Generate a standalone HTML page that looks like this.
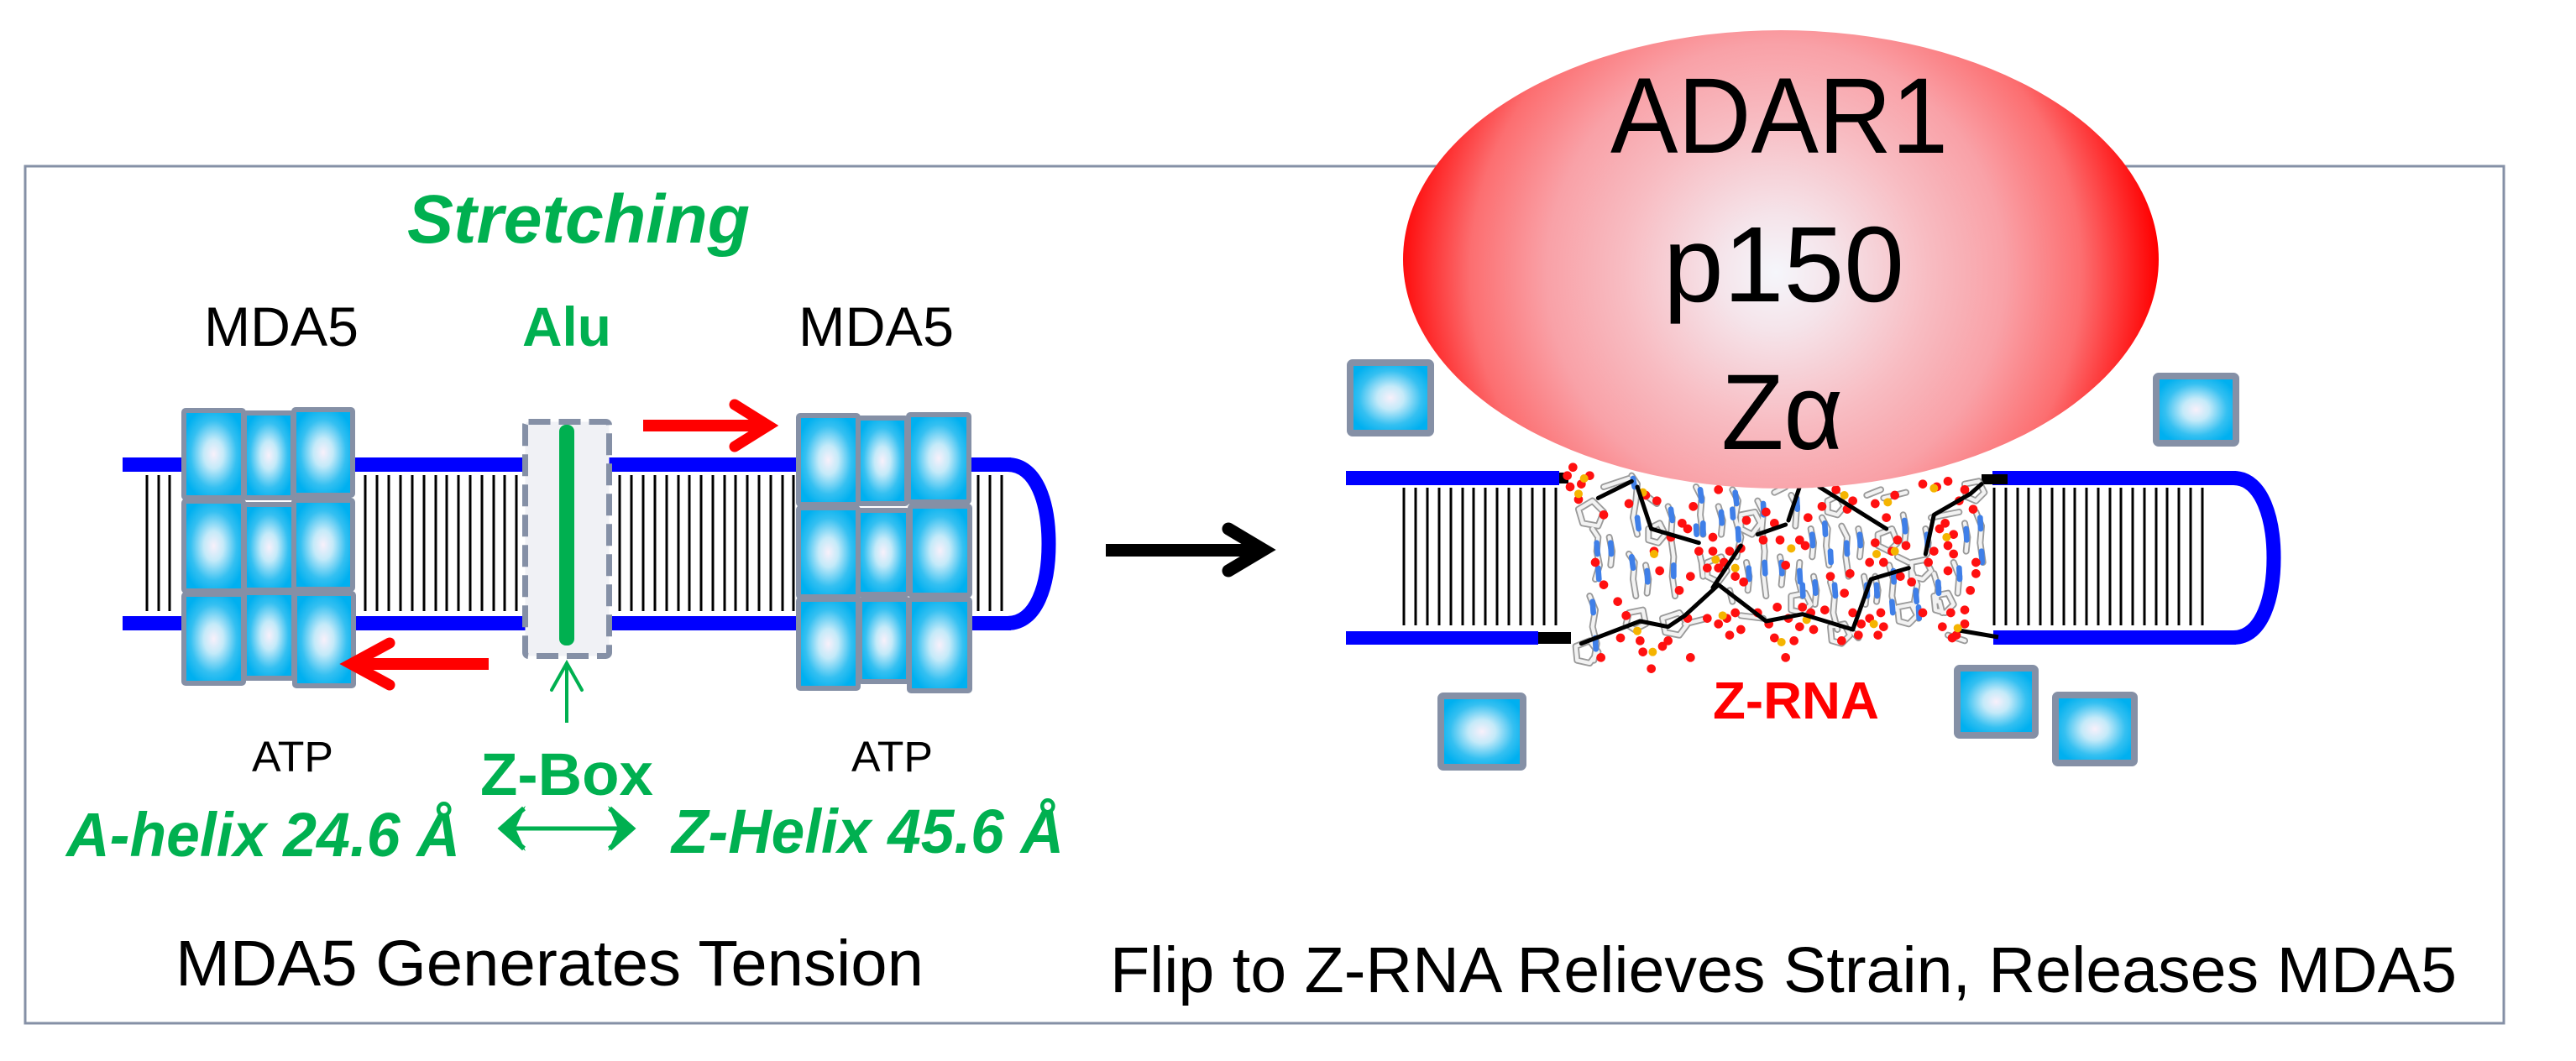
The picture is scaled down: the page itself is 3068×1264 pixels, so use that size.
<!DOCTYPE html>
<html>
<head>
<meta charset="utf-8">
<style>
html,body{margin:0;padding:0;background:#fff;}
svg{display:block;}
text{font-family:"Liberation Sans", Arial, sans-serif;}
</style>
</head>
<body>
<svg width="3068" height="1264" viewBox="0 0 3068 1264" xmlns="http://www.w3.org/2000/svg">
<defs>
  <radialGradient id="cell" cx="0.5" cy="0.5" r="0.55">
    <stop offset="0" stop-color="#F8F0FA"/>
    <stop offset="0.3" stop-color="#C4EAF9"/>
    <stop offset="0.7" stop-color="#35C0F1"/>
    <stop offset="1" stop-color="#00B0F0"/>
  </radialGradient>
  <radialGradient id="ell" gradientUnits="userSpaceOnUse" cx="2115" cy="325" r="455">
    <stop offset="0" stop-color="#F5F6FB"/>
    <stop offset="0.15" stop-color="#F5E4EA"/>
    <stop offset="0.4" stop-color="#F8BCC2"/>
    <stop offset="0.6" stop-color="#F9A1A7"/>
    <stop offset="0.8" stop-color="#FC6E70"/>
    <stop offset="1" stop-color="#FF0000"/>
  </radialGradient>
</defs>

<!-- frame -->
<rect x="30" y="198" width="2952" height="1021" fill="none" stroke="#8590A6" stroke-width="3"/>

<!-- ===== LEFT PANEL ===== -->
<path stroke="#000" stroke-width="3" fill="none" d="
M175,566V728 M189,566V728 M202,566V728
M435,566V728 M449,566V728 M463,566V728 M477,566V728 M491,566V728 M505,566V728 M519,566V728 M532,566V728 M546,566V728 M560,566V728 M574,566V728 M588,566V728 M601,566V728 M615,566V728
M738,566V728 M752,566V728 M766,566V728 M780,566V728 M794,566V728 M808,566V728 M821,566V728 M835,566V728 M849,566V728 M863,566V728 M876,566V728 M890,566V728 M904,566V728 M918,566V728 M932,566V728 M945,566V728
M1165,566V728 M1179,566V728 M1193,566V728"/>
<rect x="146" y="545" width="1058" height="17" fill="#0000FF"/>
<rect x="146" y="734" width="1058" height="17" fill="#0000FF"/>
<path d="M1200,553.5 C1235,553.5 1249,600 1249,648 C1249,696 1235,742.5 1200,742.5" fill="none" stroke="#0000FF" stroke-width="17"/>

<rect x="625.5" y="502.5" width="100" height="279" rx="4" fill="#F0F1F5" stroke="#8590A6" stroke-width="7" stroke-dasharray="26 10"/>
<rect x="666" y="506" width="18" height="263" rx="8" fill="#00B050"/>

<g fill="url(#cell)" stroke="#8590A6" stroke-width="6">
  <rect x="219" y="489" width="71" height="104" rx="2"/>
  <rect x="291" y="492" width="58" height="101" rx="2"/>
  <rect x="350" y="488" width="70" height="102" rx="2"/>
  <rect x="219" y="597" width="71" height="107" rx="2"/>
  <rect x="291" y="601" width="59" height="102" rx="2"/>
  <rect x="350" y="596" width="70" height="106" rx="2"/>
  <rect x="219" y="708" width="71" height="106" rx="2"/>
  <rect x="291" y="706" width="59" height="102" rx="2"/>
  <rect x="351" y="707" width="70" height="110" rx="2"/>
</g>
<g fill="url(#cell)" stroke="#8590A6" stroke-width="6">
  <rect x="951" y="495" width="71" height="106" rx="2"/>
  <rect x="1022" y="498" width="58" height="102" rx="2"/>
  <rect x="1082" y="494" width="72" height="104" rx="2"/>
  <rect x="951" y="605" width="71" height="106" rx="2"/>
  <rect x="1022" y="608" width="60" height="100" rx="2"/>
  <rect x="1084" y="603" width="71" height="106" rx="2"/>
  <rect x="951" y="714" width="71" height="106" rx="2"/>
  <rect x="1024" y="714" width="58" height="98" rx="2"/>
  <rect x="1083" y="714" width="72" height="109" rx="2"/>
</g>

<rect x="766" y="500" width="146" height="14" fill="#FF0000"/>
<polyline points="875,482 915,507 875,532" fill="none" stroke="#FF0000" stroke-width="13" stroke-linecap="round" stroke-linejoin="miter"/>
<rect x="420" y="784" width="162" height="14" fill="#FF0000"/>
<polyline points="464,766 418,791 464,816" fill="none" stroke="#FF0000" stroke-width="13" stroke-linecap="round" stroke-linejoin="miter"/>

<line x1="675" y1="861" x2="675" y2="792" stroke="#00B050" stroke-width="4"/>
<polyline points="657,822 675,790 693,822" fill="none" stroke="#00B050" stroke-width="4" stroke-linecap="round"/>
<line x1="604" y1="987" x2="746" y2="987" stroke="#00B050" stroke-width="5"/>
<polygon points="593,987 626,960 614,987 626,1014" fill="#00B050"/>
<polyline points="624,963 597,987 624,1011" fill="none" stroke="#00B050" stroke-width="6" stroke-linejoin="miter"/>
<polygon points="757,987 724,960 736,987 724,1014" fill="#00B050"/>
<polyline points="726,963 753,987 726,1011" fill="none" stroke="#00B050" stroke-width="6" stroke-linejoin="miter"/>

<text x="485" y="289" font-size="82" font-weight="bold" font-style="italic" fill="#00B050" textLength="408" lengthAdjust="spacingAndGlyphs">Stretching</text>
<text x="243" y="412" font-size="66" fill="#000" textLength="184" lengthAdjust="spacingAndGlyphs">MDA5</text>
<text x="622" y="412" font-size="66" font-weight="bold" fill="#00B050" textLength="106" lengthAdjust="spacingAndGlyphs">Alu</text>
<text x="951" y="412" font-size="66" fill="#000" textLength="185" lengthAdjust="spacingAndGlyphs">MDA5</text>
<text x="300" y="919" font-size="51" fill="#000" textLength="97" lengthAdjust="spacingAndGlyphs">ATP</text>
<text x="1014" y="919" font-size="51" fill="#000" textLength="97" lengthAdjust="spacingAndGlyphs">ATP</text>
<text x="572" y="947" font-size="71" font-weight="bold" fill="#00B050" textLength="206" lengthAdjust="spacingAndGlyphs">Z-Box</text>
<text x="79" y="1020" font-size="74" font-weight="bold" font-style="italic" fill="#00B050" textLength="469" lengthAdjust="spacingAndGlyphs">A-helix 24.6 Å</text>
<text x="800" y="1016" font-size="74" font-weight="bold" font-style="italic" fill="#00B050" textLength="467" lengthAdjust="spacingAndGlyphs">Z-Helix 45.6 Å</text>
<text x="209" y="1174" font-size="77" fill="#000" textLength="891" lengthAdjust="spacingAndGlyphs">MDA5 Generates Tension</text>

<rect x="1317" y="648" width="185" height="15" fill="#000"/>
<polyline points="1463,630 1505,655 1463,680" fill="none" stroke="#000" stroke-width="15" stroke-linecap="round" stroke-linejoin="miter"/>

<!-- ===== RIGHT PANEL ===== -->
<path stroke="#000" stroke-width="3" fill="none" d="
M1672,581V745 M1686,581V745 M1700,581V745 M1714,581V745 M1728,581V745 M1742,581V745 M1755,581V745 M1769,581V745 M1783,581V745 M1797,581V745 M1811,581V745 M1825,581V745 M1839,581V745 M1853,581V745
M2375,581V745 M2389,581V745 M2403,581V745 M2416,581V745 M2430,581V745 M2444,581V745 M2458,581V745 M2471,581V745 M2485,581V745 M2499,581V745 M2513,581V745 M2526,581V745 M2540,581V745 M2554,581V745 M2568,581V745 M2581,581V745 M2595,581V745 M2609,581V745 M2623,581V745"/>
<rect x="1603" y="561" width="254" height="17" fill="#0000FF"/>
<rect x="1857" y="563" width="11" height="13" fill="#000"/>
<rect x="1603" y="752" width="229" height="16" fill="#0000FF"/>
<rect x="1832" y="753" width="39" height="14" fill="#000"/>
<rect x="2373" y="561" width="290" height="17" fill="#0000FF"/>
<rect x="2360" y="565" width="31" height="12" fill="#000"/>
<rect x="2374" y="751" width="289" height="17" fill="#0000FF"/>
<line x1="2333" y1="751" x2="2380" y2="759" stroke="#000" stroke-width="5"/>
<path d="M2660,569.5 C2695,569.5 2708,620 2708,664.5 C2708,710 2695,759.5 2660,759.5" fill="none" stroke="#0000FF" stroke-width="17"/>

<!-- Z-RNA stick model (approximate) -->
<g transform="translate(1860,530) scale(0.33333)" stroke-linecap="round" stroke-linejoin="round" fill="none">
  <defs>
    <path id="sticks" d="
M110,300 L130,330 L125,380 L135,430 L120,480
M250,110 L270,140 L265,200 L255,260 L270,320
M240,390 L260,420 L255,480 L265,540
M380,220 L395,260 L390,330 L400,400 L395,470 L405,540
M480,150 L500,190 L495,250 L505,320
M490,380 L500,420 L505,470
M610,160 L630,200 L620,260 L640,330 L625,400
M700,200 L720,240 L715,300 L725,380 L720,460 L730,540
M820,180 L840,220 L835,290
M850,420 L845,480 L860,540
M930,260 L950,300 L945,360 L955,430
M1000,290 L1020,330 L1015,400 L1025,470
M960,490 L975,540 L970,600 L985,660
M1170,430 L1185,480 L1180,540 L1190,590
M1250,450 L1270,500 L1260,560 L1275,620
M1400,420 L1420,470 L1415,530
M1480,240 L1500,290 L1495,350 L1505,420
M100,540 L120,590 L110,650 L125,710 L115,770
M1080,470 L1090,520 L1085,570
M1330,460 L1345,510 L1340,560
M170,330 L180,380 L175,430
M300,430 L310,480 L305,530
M560,220 L575,270 L570,320
M660,420 L670,470 L665,520
M780,400 L790,450 L785,500
M890,300 L900,350 L895,400
M1060,300 L1070,350 L1065,400
M1120,470 L1130,520 L1125,560
M1220,250 L1230,300 L1225,350
M1300,300 L1310,350 L1305,390
M1440,280 L1450,330 L1445,380
M1350,560 L1360,600
M900,470 L910,520 L905,570
M600,520 L610,560
M60,230 L110,200 L150,240 L130,290 L75,280 Z
M640,250 L690,240 L710,280 L680,320 L640,300 Z
M1130,320 L1180,300 L1200,350 L1170,380 L1130,360 Z
M820,540 L870,530 L890,570 L860,600 L820,590 Z
M240,600 L290,590 L300,640 L260,660 L230,640 Z
M50,720 L100,700 L130,740 L100,780 L55,770 Z
M1250,420 L1300,410 L1320,450 L1290,480 L1250,470 Z
M950,200 L990,180 L1010,220 L985,250 L950,240 Z
M360,620 L420,600 L450,640 L420,680 L370,670 Z
M520,420 L570,400 L590,450 L560,490 L520,470 Z
M960,650 L1010,640 L1030,680 L1000,710 L965,700 Z
M1440,140 L1490,130 L1510,170 L1480,200 L1445,185 Z
M1330,540 L1380,530 L1400,570 L1370,600 L1335,590 Z
M1200,580 L1250,570 L1270,610 L1240,640 L1205,630 Z
M310,300 L350,280 L370,320 L345,350 L310,340 Z
M150,150 L240,120
M640,610 L720,620
M440,640 L520,620
M1040,670 L1060,690
M1320,260 L1420,240
M1150,190 L1230,170
M300,180 L340,210
M760,170 L800,150
M1200,400 L1240,420
M1380,680 L1440,700
M1090,180 L1140,160
"/>
    <path id="nit" d="
M255,120 L260,150 M270,260 L275,300 M250,400 L255,440 M390,230 L395,270 M400,430 L400,470
M495,160 L500,200 M505,280 L505,320 M620,170 L625,210 M630,300 L632,340 M720,210 L722,250
M725,420 L727,460 M840,190 L842,230 M850,450 L852,490 M940,280 L942,320 M1018,350 L1020,390
M975,500 L978,540 M1185,450 L1187,490 M1265,520 L1268,560 M1420,440 L1422,480 M1495,260 L1497,300
M110,560 L113,600 M120,690 L122,730 M125,350 L128,390 M1500,380 L1502,420 M130,440 L133,480
M860,500 L862,540 M1275,580 L1277,620 M1180,560 L1183,600 M1090,500 L1092,540 M1345,490 L1347,530
M610,230 L612,260 M480,290 L482,320 M960,380 L962,420
M175,350 L177,390 M305,450 L307,490 M570,240 L572,280 M668,440 L670,480 M785,420 L787,460
M895,320 L897,360 M1065,320 L1067,360 M1225,270 L1227,310 M1445,300 L1447,340 M905,490 L907,530
M1125,500 L1127,540 M1305,320 L1307,360"/>
  </defs>
  <use href="#sticks" stroke="#9A9A9A" stroke-width="24"/>
  <use href="#sticks" stroke="#F2F2F2" stroke-width="13"/>
  <use href="#nit" stroke="#3F7FE8" stroke-width="20"/>
  <g fill="#FF1010" stroke="none">
    <circle cx="40" cy="80" r="16"/><circle cx="100" cy="110" r="16"/><circle cx="30" cy="150" r="16"/><circle cx="60" cy="195" r="16"/>
    <circle cx="150" cy="250" r="16"/><circle cx="120" cy="420" r="16"/><circle cx="240" cy="210" r="16"/><circle cx="300" cy="180" r="16"/>
    <circle cx="340" cy="200" r="16"/><circle cx="330" cy="380" r="16"/><circle cx="350" cy="450" r="16"/><circle cx="390" cy="330" r="16"/>
    <circle cx="430" cy="280" r="16"/><circle cx="500" cy="120" r="16"/><circle cx="490" cy="380" r="16"/><circle cx="540" cy="380" r="16"/>
    <circle cx="520" cy="440" r="16"/><circle cx="560" cy="440" r="16"/><circle cx="580" cy="420" r="16"/><circle cx="620" cy="470" r="16"/>
    <circle cx="650" cy="490" r="16"/><circle cx="600" cy="380" r="16"/><circle cx="640" cy="370" r="16"/><circle cx="720" cy="340" r="16"/>
    <circle cx="780" cy="340" r="16"/><circle cx="800" cy="430" r="16"/><circle cx="850" cy="340" r="16"/><circle cx="870" cy="360" r="16"/>
    <circle cx="810" cy="620" r="16"/><circle cx="850" cy="650" r="16"/><circle cx="890" cy="600" r="16"/><circle cx="900" cy="660" r="16"/>
    <circle cx="760" cy="690" r="16"/><circle cx="800" cy="760" r="16"/><circle cx="740" cy="640" r="16"/><circle cx="930" cy="220" r="16"/>
    <circle cx="980" cy="160" r="16"/><circle cx="1020" cy="230" r="16"/><circle cx="1040" cy="200" r="16"/><circle cx="1120" cy="210" r="16"/>
    <circle cx="1160" cy="260" r="16"/><circle cx="1190" cy="180" r="16"/><circle cx="1290" cy="140" r="16"/><circle cx="1340" cy="150" r="16"/>
    <circle cx="1380" cy="130" r="16"/><circle cx="1440" cy="160" r="16"/><circle cx="1370" cy="280" r="16"/><circle cx="1380" cy="360" r="16"/>
    <circle cx="1400" cy="320" r="16"/><circle cx="1400" cy="390" r="16"/><circle cx="1330" cy="380" r="16"/><circle cx="1100" cy="420" r="16"/>
    <circle cx="1150" cy="420" r="16"/><circle cx="1120" cy="350" r="16"/><circle cx="1200" cy="340" r="16"/><circle cx="1230" cy="360" r="16"/>
    <circle cx="1250" cy="490" r="16"/><circle cx="1210" cy="470" r="16"/><circle cx="1040" cy="600" r="16"/><circle cx="1100" cy="620" r="16"/>
    <circle cx="1130" cy="680" r="16"/><circle cx="1150" cy="650" r="16"/><circle cx="1060" cy="680" r="16"/><circle cx="1390" cy="600" r="16"/>
    <circle cx="1410" cy="680" r="16"/><circle cx="1395" cy="690" r="16"/><circle cx="1440" cy="590" r="16"/><circle cx="1480" cy="420" r="16"/>
    <circle cx="1030" cy="460" r="16"/><circle cx="1010" cy="530" r="16"/><circle cx="230" cy="610" r="16"/><circle cx="210" cy="690" r="16"/>
    <circle cx="280" cy="700" r="16"/><circle cx="290" cy="740" r="16"/><circle cx="320" cy="800" r="16"/><circle cx="360" cy="720" r="16"/>
    <circle cx="380" cy="700" r="16"/><circle cx="450" cy="620" r="16"/><circle cx="560" cy="640" r="16"/><circle cx="590" cy="620" r="16"/>
    <circle cx="620" cy="600" r="16"/><circle cx="520" cy="620" r="16"/><circle cx="460" cy="760" r="16"/><circle cx="1460" cy="520" r="16"/>
    <circle cx="1380" cy="450" r="16"/><circle cx="470" cy="220" r="16"/><circle cx="450" cy="300" r="16"/><circle cx="660" cy="270" r="16"/>
    <circle cx="730" cy="240" r="16"/><circle cx="560" cy="160" r="16"/><circle cx="140" cy="760" r="16"/><circle cx="1000" cy="700" r="16"/>
    <circle cx="700" cy="600" r="16"/><circle cx="960" cy="470" r="16"/><circle cx="1290" cy="600" r="16"/><circle cx="1180" cy="380" r="16"/>
    <circle cx="20" cy="110" r="16"/><circle cx="70" cy="140" r="16"/><circle cx="150" cy="500" r="16"/><circle cx="200" cy="560" r="16"/>
    <circle cx="420" cy="520" r="16"/><circle cx="460" cy="470" r="16"/><circle cx="600" cy="680" r="16"/><circle cx="640" cy="660" r="16"/>
    <circle cx="770" cy="580" r="16"/><circle cx="830" cy="700" r="16"/><circle cx="940" cy="590" r="16"/><circle cx="1070" cy="640" r="16"/>
    <circle cx="1140" cy="600" r="16"/><circle cx="1310" cy="420" r="16"/><circle cx="1350" cy="300" r="16"/><circle cx="1420" cy="200" r="16"/>
    <circle cx="1470" cy="230" r="16"/><circle cx="1480" cy="460" r="16"/><circle cx="1440" cy="640" r="16"/><circle cx="1360" cy="650" r="16"/>
    <circle cx="860" cy="580" r="16"/><circle cx="880" cy="260" r="16"/><circle cx="760" cy="280" r="16"/><circle cx="540" cy="330" r="16"/>
  </g>
  <g fill="#F5B400" stroke="none">
    <circle cx="60" cy="175" r="15"/><circle cx="80" cy="120" r="15"/><circle cx="330" cy="390" r="15"/><circle cx="550" cy="410" r="15"/>
    <circle cx="620" cy="440" r="15"/><circle cx="575" cy="610" r="15"/><circle cx="820" cy="370" r="15"/><circle cx="875" cy="625" r="15"/>
    <circle cx="785" cy="705" r="15"/><circle cx="1115" cy="640" r="15"/><circle cx="1010" cy="180" r="15"/><circle cx="1165" cy="205" r="15"/>
    <circle cx="1125" cy="390" r="15"/><circle cx="1375" cy="330" r="15"/><circle cx="1415" cy="655" r="15"/><circle cx="325" cy="740" r="15"/>
    <circle cx="1330" cy="155" r="15"/><circle cx="270" cy="665" r="15"/><circle cx="290" cy="170" r="15"/><circle cx="1190" cy="380" r="15"/>
  </g>
  <path stroke="#000" stroke-width="15" d="
M130,190 L250,130
M270,150 L320,300 L490,350
M540,510 L640,360
M560,500 L440,610 L380,650 L280,630 L70,710
M560,500 L730,630 L860,605 L1040,660 L1105,480 L1240,440
M1300,390 L1330,250 L1460,175 L1500,140
M810,270 L850,150
M920,150 L1160,300
M700,320 L800,285"/>
</g>

<g fill="url(#cell)" stroke="#8590A6" stroke-width="8">
  <rect x="1608" y="432" width="96" height="84" rx="3"/>
  <rect x="2568" y="448" width="95" height="80" rx="3"/>
  <rect x="1716" y="829" width="98" height="85" rx="3"/>
  <rect x="2331" y="796" width="93" height="80" rx="3"/>
  <rect x="2448" y="828" width="94" height="81" rx="3"/>
</g>

<ellipse cx="2121" cy="309" rx="450" ry="273" fill="url(#ell)"/>
<text x="1918" y="182" font-size="128" fill="#000" textLength="402" lengthAdjust="spacingAndGlyphs">ADAR1</text>
<text x="1981" y="359" font-size="128" fill="#000" textLength="287" lengthAdjust="spacingAndGlyphs">p150</text>
<text x="2050" y="535" font-size="128" fill="#000" textLength="145" lengthAdjust="spacingAndGlyphs">Zα</text>

<text x="2040" y="856" font-size="62" font-weight="bold" fill="#FF0000" textLength="198" lengthAdjust="spacingAndGlyphs">Z-RNA</text>
<text x="1322" y="1182" font-size="77" fill="#000" textLength="1604" lengthAdjust="spacingAndGlyphs">Flip to Z-RNA Relieves Strain, Releases MDA5</text>
</svg>
</body>
</html>
